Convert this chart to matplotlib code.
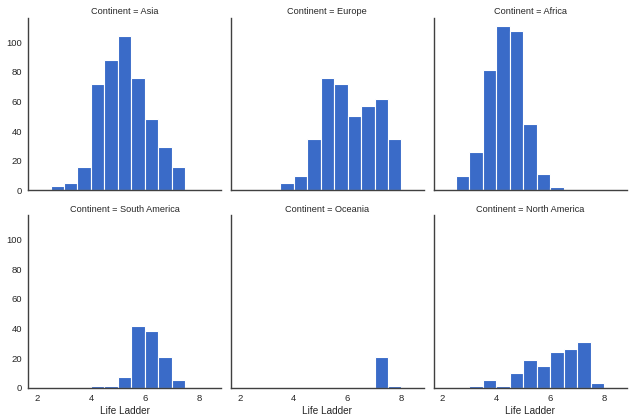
import numpy as np
import matplotlib
matplotlib.use('Agg')
import matplotlib.pyplot as plt

# Life Ladder histogram counts per continent (bins of width 0.5)
bin_edges = [2.5, 3.0, 3.5, 4.0, 4.5, 5.0, 5.5, 6.0, 6.5, 7.0, 7.5, 8.0]
continents = ['Asia', 'Europe', 'Africa', 'South America', 'Oceania', 'North America']

asia = [3, 5, 16, 72, 88, 104, 76, 48, 29, 16, 0]
europe = [0, 0, 5, 10, 35, 76, 72, 50, 57, 62, 35]
africa = [10, 26, 81, 111, 108, 45, 11, 2, 0, 0, 0]
south_america = [0, 0, 0, 1, 1, 7, 42, 38, 21, 5, 0]
oceania = [0, 0, 0, 0, 0, 0, 0, 0, 0, 21, 1]
north_america = [0, 1, 5, 1, 10, 19, 15, 24, 26, 31, 3]

counts = [asia, europe, africa, south_america, oceania, north_america]

plt.rcParams['font.family'] = ['Liberation Sans', 'DejaVu Sans']

fig, axes = plt.subplots(2, 3, figsize=(6.4, 4.16), dpi=100, sharex=True, sharey=True)
fig.subplots_adjust(left=0.044, right=0.979, bottom=0.068, top=0.957, wspace=0.05, hspace=0.145)

bar_color = '#3a6bc8'
edges = np.array(bin_edges)
for ax, name, c in zip(axes.flat, continents, counts):
    ax.bar(edges[:-1], c, width=np.diff(edges), align='edge',
           color=bar_color, edgecolor='white', linewidth=0.8)
    ax.set_title('Continent = ' + name, fontsize=6.6, color='#262626', pad=2.5)
    for side in ['top', 'right']:
        ax.spines[side].set_visible(False)
    for side in ['left', 'bottom']:
        ax.spines[side].set_color('#404040')
        ax.spines[side].set_linewidth(1.0)
    ax.tick_params(length=0, labelsize=6.8, labelcolor='#262626', pad=4.5)

axes[0, 0].set_xlim(1.67, 8.83)
axes[0, 0].set_ylim(0, 116.55)
axes[0, 0].set_yticks([0, 20, 40, 60, 80, 100])
axes[0, 0].set_xticks([2, 4, 6, 8])
for ax in axes[1]:
    ax.set_xlabel('Life Ladder', fontsize=7.2, color='#262626', labelpad=2)

plt.savefig('out.png', dpi=100)
